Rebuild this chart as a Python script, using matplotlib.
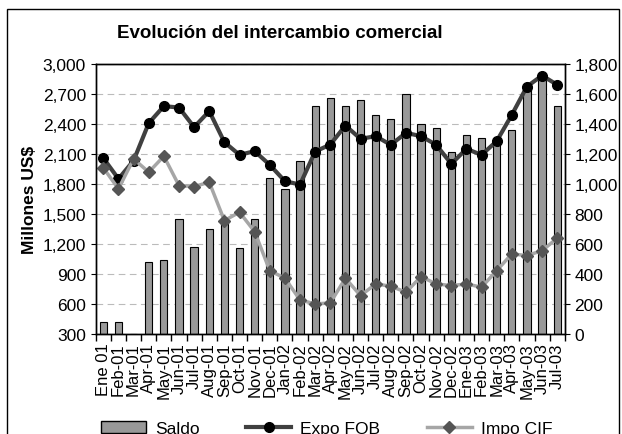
import matplotlib.pyplot as plt
import matplotlib.patches as mpatches
import numpy as np

plt.rcParams['font.family'] = ['Liberation Sans', 'DejaVu Sans']

meses = ["Ene 01", "Feb-01", "Mar-01", "Apr-01", "May-01", "Jun-01", "Jul-01", "Aug-01",
         "Sep-01", "Oct-01", "Nov-01", "Dec-01", "Jan-02", "Feb-02", "Mar-02", "Apr-02",
         "May-02", "Jun-02", "Jul-02", "Aug-02", "Sep-02", "Oct-02", "Nov-02", "Dec-02",
         "Ene-03", "Feb-03", "Mar-03", "Apr-03", "May-03", "Jun-03", "Jul-03"]

# left axis (millones US$)
expo_fob = [2057, 1850, 2033, 2407, 2577, 2563, 2367, 2527, 2217, 2090, 2127, 1990,
            1827, 1793, 2123, 2193, 2383, 2250, 2277, 2190, 2310, 2277, 2190, 2000,
            2150, 2090, 2227, 2490, 2773, 2883, 2790]
impo_cif = [1960, 1750, 2050, 1917, 2077, 1783, 1773, 1817, 1433, 1517, 1323, 933,
            857, 640, 600, 610, 857, 683, 800, 777, 717, 873, 800, 783,
            800, 767, 933, 1100, 1083, 1133, 1257]
# right axis
saldo = [82, 82, 0, 482, 491, 767, 582, 700, 740, 573, 767, 1040,
         967, 1151, 1522, 1571, 1516, 1560, 1456, 1433, 1596, 1398, 1373, 1211,
         1327, 1304, 1285, 1362, 1630, 1735, 1522]

x = np.arange(len(meses))

fig = plt.figure(figsize=(6.22, 4.35), dpi=100)
ax = fig.add_axes([0.154, 0.230, 0.754, 0.621])
ax2 = ax.twinx()
ax.set_zorder(ax2.get_zorder() + 1)
ax.patch.set_visible(False)

ax2.bar(x, saldo, width=0.48, color='#999999', edgecolor='black', linewidth=0.8, label='Saldo')
ax2.set_ylim(0, 1800)
ax2.set_yticks(np.arange(0, 1801, 200))
ax2.set_yticklabels([f"{v:,}" for v in range(0, 1801, 200)], fontsize=12.5)
ax2.yaxis.grid(True, linestyle=(0, (6, 4)), color='#bbbbbb', linewidth=0.8)
ax2.set_axisbelow(True)

l1, = ax.plot(x, expo_fob, color='#404040', linewidth=3, marker='o', markersize=7,
              markerfacecolor='black', markeredgecolor='black', label='Expo FOB')
l2, = ax.plot(x, impo_cif, color='#a6a6a6', linewidth=2.5, marker='D', markersize=6,
              markerfacecolor='#555555', markeredgecolor='#555555', label='Impo CIF')
ax.set_ylim(300, 3000)
ax.set_yticks(np.arange(300, 3001, 300))
ax.set_yticklabels([f"{v:,}" for v in range(300, 3001, 300)], fontsize=12.5)
ax.set_xlim(-0.5, len(meses) - 0.5)
ax.set_xticks(x)
ax.set_xticklabels(meses, rotation=90, fontsize=12)
ax.set_xticks(np.arange(-0.5, len(meses)), minor=True)
ax.tick_params(axis='x', which='major', length=0, pad=6)
ax.tick_params(axis='x', which='minor', length=5, width=1)
ax.set_ylabel("Millones US$", fontsize=12.5, fontweight='bold', labelpad=4)

for a in (ax, ax2):
    for s in a.spines.values():
        s.set_linewidth(1)

fig.text(0.45, 0.924, "Evolución del intercambio comercial", ha='center', va='center',
         fontsize=13.5, fontweight='bold')

bar_handle = mpatches.Patch(facecolor='#999999', edgecolor='black', label='Saldo')
fig.legend(handles=[bar_handle, l1, l2], loc='center', bbox_to_anchor=(0.525, 0.012),
           ncol=3, frameon=False, fontsize=12.5, handlelength=2.6, handletextpad=0.5,
           columnspacing=2.7)

fig.add_artist(mpatches.Rectangle((0.011, -0.05), 0.984, 1.027, transform=fig.transFigure,
                                  fill=False, edgecolor='black', linewidth=1))

fig.savefig("out.png", dpi=100)
